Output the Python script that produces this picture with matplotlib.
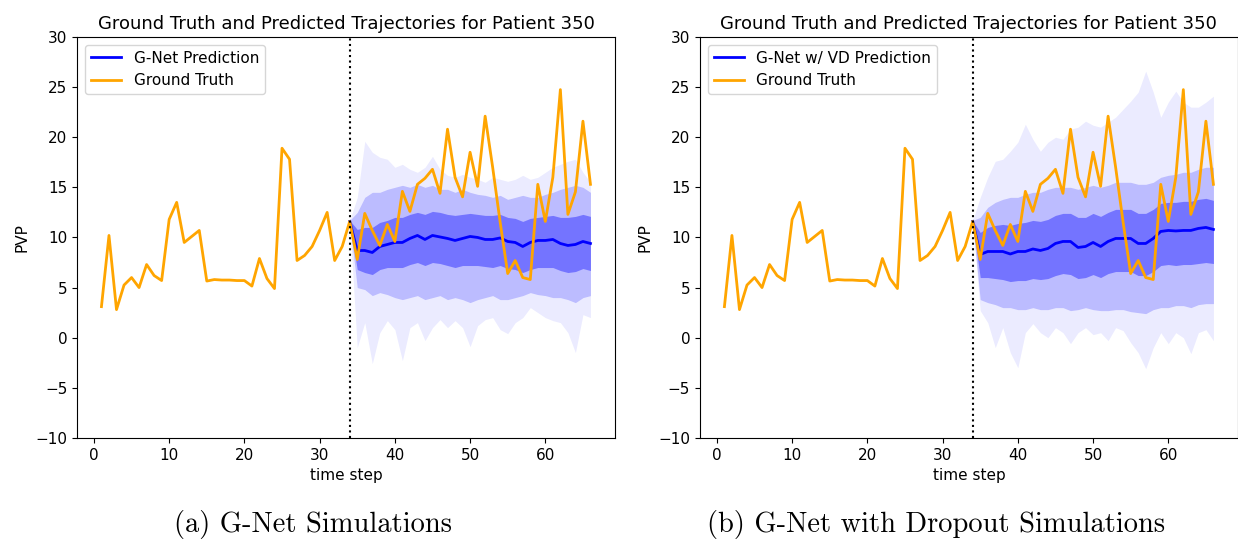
import numpy as np
import matplotlib
matplotlib.use("Agg")
import matplotlib.pyplot as plt

# ground truth PVP, time steps 1..66
truth_t = np.arange(1, 67)
truth = [3.1, 10.2, 2.8, 5.25, 6.0, 5.0, 7.3, 6.2, 5.7, 11.8,
         13.5, 9.5, 10.1, 10.7, 5.65, 5.8, 5.75, 5.75, 5.7, 5.7,
         5.15, 7.9, 5.9, 4.9, 18.9, 17.8, 7.7, 8.2, 9.1, 10.7,
         12.5, 7.7, 9.1, 11.6, 7.8, 12.4, 10.7, 9.2, 11.3, 9.6,
         14.6, 12.6, 15.3, 15.9, 16.8, 14.4, 20.8, 16.0, 14.05, 18.5,
         15.1, 22.1, 17.0, 11.5, 6.4, 7.7, 6.0, 5.8, 15.3, 11.6,
         16.0, 24.75, 12.3, 14.55, 21.6, 15.3]

# simulated part, time steps 34..66
sim_t = np.arange(34, 67)

# (a) G-Net
mean_a = [11.6, 8.7, 8.7, 8.5, 9.1, 9.3, 9.5, 9.5, 9.9, 10.2,
          9.8, 10.2, 10.05, 9.9, 9.7, 9.9, 10.1, 10.0, 9.8, 9.8,
          9.95, 9.6, 9.5, 9.1, 9.5, 9.7, 9.7, 9.8, 9.4, 9.2,
          9.3, 9.6, 9.4]
hi_a = [11.7, 14.0, 19.6, 18.5, 18.0, 17.8, 17.0, 17.3, 16.8, 16.5,
        17.0, 18.1, 16.8, 16.2, 16.0, 16.3, 16.0, 15.8, 15.5, 16.0,
        15.8, 15.6, 15.8, 16.2, 15.8, 16.0, 16.5, 17.0, 17.3, 17.6,
        17.8, 16.5, 15.5]
lo_a = [11.5, -1.0, 1.5, -2.6, 0.5, 1.7, 0.8, -2.3, 1.0, 1.5,
        -0.3, 1.0, 1.8, 1.0, 1.7, 1.0, -0.9, 1.2, 1.8, 2.0,
        0.8, 0.4, 1.5, 2.0, 3.0, 2.5, 2.0, 1.7, 1.5, 0.5,
        -1.5, 2.3, 2.0]
body_hi_a = [11.7, 12.5, 14.0, 14.5, 14.5, 14.8, 15.0, 15.2, 15.0, 15.3,
             15.0, 15.2, 14.8, 14.8, 14.5, 14.8, 14.5, 14.3, 14.2, 14.0,
             14.2, 13.8, 14.0, 14.2, 14.0, 14.0, 14.3, 14.5, 14.8, 15.0,
             15.2, 15.0, 14.5]
body_lo_a = [11.5, 5.0, 4.8, 4.2, 4.5, 4.3, 4.0, 3.8, 4.0, 4.2,
             3.8, 4.0, 4.2, 3.8, 4.0, 3.8, 3.5, 3.8, 4.0, 4.2,
             3.8, 3.8, 4.0, 4.2, 4.5, 4.3, 4.2, 4.0, 4.0, 3.8,
             3.5, 4.0, 4.2]
core_hi_a = [11.7, 10.8, 11.0, 11.0, 11.5, 11.7, 12.0, 12.0, 12.3, 12.5,
             12.3, 12.6, 12.5, 12.3, 12.2, 12.3, 12.4, 12.3, 12.2, 12.2,
             12.3, 12.0, 11.9, 11.6, 11.9, 12.0, 12.1, 12.2, 12.0, 12.0,
             12.1, 12.3, 12.1]
core_lo_a = [11.5, 6.8, 6.5, 6.3, 6.8, 7.0, 7.0, 7.0, 7.3, 7.5,
             7.2, 7.5, 7.4, 7.2, 7.0, 7.2, 7.2, 7.2, 7.1, 7.0,
             7.2, 6.9, 6.8, 6.5, 6.8, 7.0, 7.0, 7.0, 6.7, 6.5,
             6.6, 6.9, 6.7]

# (b) G-Net with variational dropout
mean_b = [11.6, 8.3, 8.6, 8.6, 8.6, 8.35, 8.6, 8.6, 8.85, 8.7,
          8.9, 9.4, 9.6, 9.6, 9.0, 9.1, 9.5, 9.1, 9.6, 9.9,
          9.9, 9.9, 9.4, 9.4, 9.9, 10.6, 10.7, 10.65, 10.7, 10.7,
          10.9, 11.0, 10.8]
hi_b = [11.7, 14.0, 16.0, 17.6, 17.8, 18.6, 19.5, 21.3, 19.8, 18.6,
        19.5, 20.0, 19.8, 20.8, 21.0, 21.6, 21.2, 21.0, 21.5, 22.0,
        22.8, 23.6, 24.5, 26.6, 24.5, 22.0, 23.5, 24.6, 23.5, 23.0,
        23.0, 23.5, 24.1]
lo_b = [11.5, 2.7, 1.5, -1.0, 1.0, -1.5, -3.0, 0.5, 1.4, 0.5,
        0.0, 1.0, 0.5, -0.6, 0.5, 1.0, 0.3, 0.5, -0.3, 1.0,
        0.7, -0.5, -1.5, -3.1, -1.0, 0.5, -0.6, 0.5, 0.0, -1.6,
        0.5, 0.8, -0.3]
body_hi_b = [11.7, 12.0, 13.0, 13.5, 13.8, 14.0, 14.0, 14.3, 14.5, 14.5,
             14.8, 15.0, 15.0, 15.0, 14.8, 15.0, 15.2, 15.0, 15.2, 15.5,
             15.5, 15.5, 15.3, 15.3, 15.5, 16.0, 16.2, 16.3, 16.5, 16.5,
             16.8, 17.0, 17.0]
body_lo_b = [11.5, 3.8, 3.5, 3.3, 3.0, 3.0, 2.8, 2.8, 3.0, 2.8,
             2.8, 3.0, 3.0, 2.7, 2.8, 3.0, 2.8, 2.7, 2.7, 2.8,
             2.8, 2.6, 2.5, 2.4, 2.8, 3.0, 3.0, 3.2, 3.2, 3.0,
             3.3, 3.4, 3.4]
core_hi_b = [11.7, 10.5, 11.0, 11.2, 11.3, 11.2, 11.4, 11.5, 11.7, 11.6,
             11.8, 12.2, 12.4, 12.4, 12.0, 12.0, 12.4, 12.1, 12.5, 12.8,
             12.8, 12.8, 12.4, 12.4, 12.8, 13.4, 13.5, 13.5, 13.6, 13.6,
             13.8, 13.9, 13.7]
core_lo_b = [11.5, 6.0, 6.0, 5.9, 5.8, 5.6, 5.7, 5.7, 5.9, 5.8,
             5.9, 6.2, 6.4, 6.3, 5.9, 6.0, 6.3, 6.0, 6.4, 6.6,
             6.6, 6.6, 6.2, 6.2, 6.6, 7.2, 7.3, 7.2, 7.3, 7.3,
             7.4, 7.5, 7.4]

split_t = 34

panels = [
    (mean_a, lo_a, hi_a, body_lo_a, body_hi_a, core_lo_a, core_hi_a,
     'G-Net Prediction', '(a) G-Net Simulations'),
    (mean_b, lo_b, hi_b, body_lo_b, body_hi_b, core_lo_b, core_hi_b,
     'G-Net w/ VD Prediction', '(b) G-Net with Dropout Simulations'),
]

fig = plt.figure(figsize=(12.38, 5.44), dpi=100)
ax_left = [0.0622, 0.5654]
cap_x = [0.253, 0.756]

for i, (mean, lo, hi, blo, bhi, clo, chi, lab, cap) in enumerate(panels):
    ax = fig.add_axes([ax_left[i], 0.195, 0.4345, 0.737])
    # spread of the simulated trajectories
    ax.fill_between(sim_t, lo, hi, color='blue', alpha=0.08, lw=0)
    ax.fill_between(sim_t, blo, bhi, color='blue', alpha=0.2, lw=0)
    ax.fill_between(sim_t, clo, chi, color='blue', alpha=0.38, lw=0)
    ax.plot(sim_t, mean, color='blue', lw=2, label=lab)
    ax.plot(truth_t, truth, color='orange', lw=2, label='Ground Truth')
    ax.axvline(split_t, color='black', ls=':', lw=1.5)
    ax.set_ylim(-10, 30)
    ax.set_yticks(np.arange(-10, 31, 5))
    ax.set_xticks(np.arange(0, 61, 10))
    ax.tick_params(labelsize=11)
    ax.set_xlabel('time step', fontsize=11)
    ax.set_ylabel('PVP', fontsize=11)
    ax.set_title('Ground Truth and Predicted Trajectories for Patient 350', fontsize=13)
    ax.legend(loc='upper left', fontsize=11)
    fig.text(cap_x[i], 0.035, cap, ha='center', va='center',
             fontsize=20.5, family='cmr10')

fig.savefig('out.png', dpi=100)
